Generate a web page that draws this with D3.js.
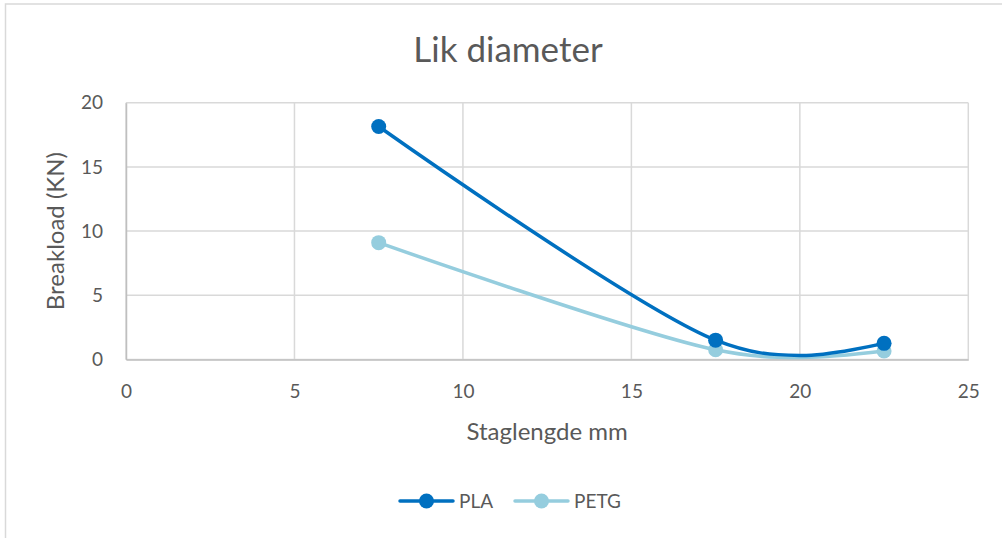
<!DOCTYPE html>
<html>
<head>
<meta charset="utf-8">
<script src="https://cdn.jsdelivr.net/npm/d3@7"></script>
<style>
  html, body { margin: 0; padding: 0; background: #fff; }
  svg { display: block; font-family: Lato, "Open Sans", sans-serif; }
</style>
</head>
<body>
<svg id="chart" width="1002" height="538"></svg>
<script>
// Staglengde (mm) sample positions; the 20 mm reading has no marker drawn
const staglengde = [7.5, 17.5, 20, 22.5];
const showMarker = [true, true, false, true];
const plaValues = [18.15, 1.5, 0.3, 1.25];
const petgValues = [9.1, 0.75, 0.15, 0.65];
const xTicks = [0, 5, 10, 15, 20, 25];
const yTicks = [0, 5, 10, 15, 20];
const seriesNames = ["PLA", "PETG"];
const seriesColors = ["#0070C0", "#95CDDE"];

const svg = d3.select("#chart");
const textColor = "#595959";
const gridColor = "#d9d9d9";

// outer chart frame
svg.append("rect")
  .attr("x", 5.5).attr("y", 4)
  .attr("width", 1100).attr("height", 600)
  .attr("fill", "#fff").attr("stroke", gridColor).attr("stroke-width", 1.5);

const plot = { left: 126, right: 968.3, top: 102.8, bottom: 359.4 };
const x = d3.scaleLinear().domain([0, 25]).range([plot.left, plot.right]);
const y = d3.scaleLinear().domain([0, 20]).range([plot.bottom, plot.top]);

// title
svg.append("text")
  .attr("x", 508).attr("y", 62)
  .attr("text-anchor", "middle")
  .attr("font-size", 35).attr("fill", textColor)
  .text("Lik diameter");

// gridlines
const grid = svg.append("g");
grid.selectAll("line.h").data(yTicks).join("line")
  .attr("x1", plot.left).attr("x2", plot.right)
  .attr("y1", d => y(d)).attr("y2", d => y(d))
  .attr("stroke", gridColor).attr("stroke-width", 1.5);
grid.selectAll("line.v").data(xTicks).join("line")
  .attr("y1", plot.top).attr("y2", plot.bottom)
  .attr("x1", d => x(d)).attr("x2", d => x(d))
  .attr("stroke", gridColor).attr("stroke-width", 1.5);

// axes
const xAxis = d3.axisBottom(x).tickValues(xTicks).tickSize(0).tickPadding(25);
const gx = svg.append("g").attr("transform", `translate(0,${plot.bottom})`).call(xAxis);
gx.select(".domain").attr("stroke", "#bfbfbf").attr("stroke-width", 1.5);
gx.selectAll("text").attr("font-size", 19).attr("fill", textColor).attr("font-family", "Lato, sans-serif");

const yAxis = d3.axisLeft(y).tickValues(yTicks).tickSize(0).tickPadding(23);
const gy = svg.append("g").attr("transform", `translate(${plot.left},0)`).call(yAxis);
gy.select(".domain").attr("stroke", "#bfbfbf").attr("stroke-width", 1.5);
gy.selectAll("text").attr("font-size", 19).attr("fill", textColor).attr("font-family", "Lato, sans-serif");

// axis titles
svg.append("text")
  .attr("x", (plot.left + plot.right) / 2).attr("y", 440)
  .attr("text-anchor", "middle")
  .attr("font-size", 24).attr("fill", textColor)
  .text("Staglengde mm");
svg.append("text")
  .attr("transform", `translate(64,${(plot.top + plot.bottom) / 2}) rotate(-90)`)
  .attr("text-anchor", "middle")
  .attr("font-size", 24).attr("fill", textColor)
  .text("Breakload (KN)");

// series
const allSeries = [plaValues, petgValues];
const line = d3.line()
  .x(d => x(d[0])).y(d => y(d[1]))
  .curve(d3.curveCatmullRom.alpha(0.5));

// draw PETG first so PLA sits on top
[1, 0].forEach(i => {
  const pts = staglengde.map((s, k) => [s, allSeries[i][k], showMarker[k]]);
  svg.append("path")
    .datum(pts)
    .attr("d", line)
    .attr("fill", "none")
    .attr("stroke", seriesColors[i])
    .attr("stroke-width", 3.5)
    .attr("stroke-linecap", "round");
  svg.append("g").selectAll("circle")
    .data(pts.filter(p => p[2]))
    .join("circle")
    .attr("cx", d => x(d[0])).attr("cy", d => y(d[1]))
    .attr("r", 7.5)
    .attr("fill", seriesColors[i]);
});

// legend
const legendX = [400, 515];
seriesNames.forEach((name, i) => {
  const g = svg.append("g").attr("transform", `translate(${legendX[i]},501)`);
  g.append("line").attr("x1", 0).attr("x2", 53).attr("y1", 0).attr("y2", 0)
    .attr("stroke", seriesColors[i]).attr("stroke-width", 3.5).attr("stroke-linecap", "round");
  g.append("circle").attr("cx", 26.5).attr("cy", 0).attr("r", 7.5).attr("fill", seriesColors[i]);
  g.append("text").attr("x", 59).attr("y", 7)
    .attr("font-size", 19).attr("fill", textColor)
    .text(name);
});
</script>
</body>
</html>
